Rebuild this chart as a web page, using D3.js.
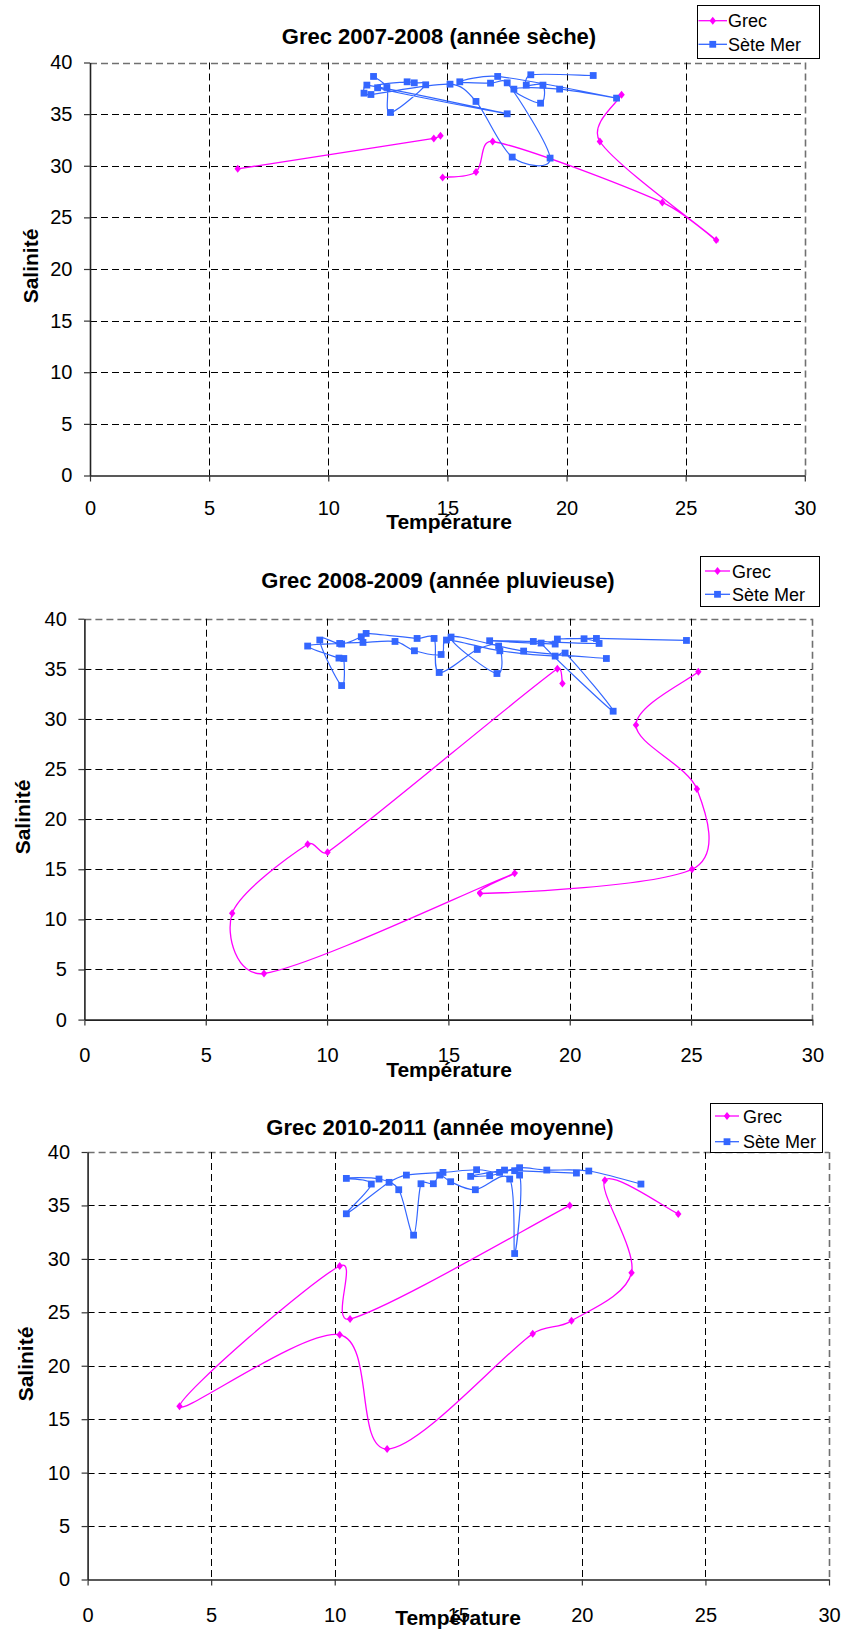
<!DOCTYPE html>
<html><head><meta charset="utf-8">
<script src="https://cdn.jsdelivr.net/npm/d3@7"></script>
<style>body{margin:0;background:#fff} svg{display:block}</style>
</head><body>
<script>
// ---------- data ----------
const titles = ["Grec 2007-2008 (année sèche)", "Grec 2008-2009 (année pluvieuse)", "Grec 2010-2011 (année moyenne)"];
const seriesNames = ["Grec", "Sète Mer"];
const xTicks = [0, 5, 10, 15, 20, 25, 30];
const yTicks = [0, 5, 10, 15, 20, 25, 30, 35, 40];
const xLabel = "Température";
const yLabel = "Salinité";

// 2007-2008
const grec1T = [6.2, 14.43, 14.71, null, 14.8, 16.2, 16.9, 24.02, 26.28, 21.4, 22.31];
const grec1S = [29.7, 32.65, 32.9, null, 28.87, 29.4, 32.35, 26.45, 22.8, 32.35, 36.87];
const sete1T = [11.90, 12.46, 12.61, 14.09, 13.61, 13.31, 12.07, 17.51, 11.62, 11.50, 11.79, 15.11, 16.20, 17.72, 19.31, 17.51, 16.81, 15.52, 17.11, 22.10, 19.71, 17.79, 18.91, 19.01, 18.31, 18.50, 21.12];
const sete1S = [38.65, 37.58, 35.16, 37.84, 38.03, 38.13, 37.55, 35.03, 37.81, 37.03, 36.90, 37.90, 36.23, 30.84, 30.74, 38.03, 38.00, 38.13, 38.65, 36.55, 37.42, 37.42, 36.06, 37.81, 37.81, 38.81, 38.74];

// 2008-2009
const grec2T = [19.70, 19.49, 10.02, 9.2, 6.09, 7.4, 17.73, 16.31, 25.04, 25.24, 22.73, 25.3];
const grec2S = [33.53, 35.0, 16.7, 17.5, 10.6, 4.6, 14.6, 12.58, 15.0, 23.0, 29.4, 34.7];
const sete2T = [21.51, 18.10, 15.11, 17.00, 17.07, 16.19, 14.62, 14.41, 13.71, 11.61, 11.41, 10.60, 9.70, 10.60, 10.69, 10.49, 9.20,
                10.52, 11.48, 12.80, 13.60, 14.70, 14.92, 17.12, 19.40, 19.81, 21.79, 18.82, 19.40, 16.70, 18.50, 21.21, 20.59, 19.49, 21.10, 24.81];
const sete2S = [36.03, 36.77, 38.17, 34.53, 37.27, 36.93, 34.63, 38.03, 38.03, 38.53, 38.20, 37.47, 37.87, 33.33, 36.03, 36.07, 37.27,
                37.53, 37.63, 37.73, 36.80, 36.43, 37.87, 36.80, 36.27, 36.57, 30.77, 37.57, 37.47, 37.80, 37.73, 37.53, 38.00, 37.97, 38.03, 37.83];

// 2010-2011
const grec3T = [19.51, 10.62, 10.2, 3.72, 10.2, 12.12, 18.01, 19.58, 22.01, 20.93, 23.9];
const grec3S = [35.0, 24.37, 29.33, 16.2, 22.9, 12.2, 23.0, 24.2, 28.7, 37.35, 34.2];
const sete3T = [22.39, 20.28, 18.58, 17.48, 16.67, 15.74, 14.38, 12.90, 12.20, 10.47, 11.48, 10.47, 11.79, 12.59, 13.19, 13.49, 13.99, 14.25, 14.69, 15.69, 17.08, 17.28, 17.48, 16.27, 15.50, 16.87, 17.28, 19.78];
const sete3S = [37.00, 38.22, 38.31, 38.53, 38.09, 38.34, 38.09, 37.84, 37.16, 34.22, 37.00, 37.53, 37.47, 36.47, 32.22, 37.03, 37.03, 37.84, 37.22, 36.47, 37.47, 30.50, 37.84, 37.78, 37.72, 38.31, 38.25, 38.03];

// ---------- layout ----------
const W = 843, H = 1629;
const FONT = "'Liberation Sans', Arial, Helvetica, sans-serif";
const MAGENTA = "#FF00FF", BLUE = "#3366FF";

const layouts = [
  {x0: 90, x1: 804.8, yTop: 62.5, yBot: 475.5, titleX: 439, titleY: 44, tickBase: 39.5, xLabX: 449, xLabY: 529, yLabX: 37.5, yLabY: 266,
   leg: {x: 697, y: 5, w: 122, h: 53, l0: 698.5, l1: 727, tx: 728, y1: 20.7, y2: 44.3}},
  {x0: 84.4, x1: 812.4, yTop: 618.7, yBot: 1019.6, titleX: 438, titleY: 588, tickBase: 42.4, xLabX: 449, xLabY: 1077, yLabX: 29.5, yLabY: 817,
   leg: {x: 700, y: 556, w: 119, h: 50, l0: 705, l1: 730, tx: 732, y1: 571, y2: 594.3}},
  {x0: 87.6, x1: 829, yTop: 1152, yBot: 1579.5, titleX: 440, titleY: 1134.5, tickBase: 42, xLabX: 458, xLabY: 1625, yLabX: 33.3, yLabY: 1364,
   leg: {x: 710, y: 1103, w: 112, h: 49, l0: 715, l1: 739, tx: 743, y1: 1116, y2: 1141.7}}
];
const datasets = [
  {gT: grec1T, gS: grec1S, sT: sete1T, sS: sete1S},
  {gT: grec2T, gS: grec2S, sT: sete2T, sS: sete2S},
  {gT: grec3T, gS: grec3S, sT: sete3T, sS: sete3S}
];

// Spreadsheet-style smoothed curve: Catmull-Rom Bezier handles,
// each handle capped relative to its own segment length (avoids loops).
function SmoothCurve(context) { this._context = context; }
SmoothCurve.prototype = {
  areaStart() {}, areaEnd() {},
  lineStart() { this._pts = []; },
  point(x, y) { this._pts.push([+x, +y]); },
  lineEnd() {
    const p = this._pts, n = p.length, c = this._context, K = 0.4;
    if (!n) return;
    c.moveTo(p[0][0], p[0][1]);
    for (let i = 0; i < n - 1; i++) {
      const p0 = p[i - 1] || p[i], p1 = p[i], p2 = p[i + 1], p3 = p[i + 2] || p[i + 1];
      const d = Math.hypot(p2[0] - p1[0], p2[1] - p1[1]);
      let t1 = [(p2[0] - p0[0]) / 6, (p2[1] - p0[1]) / 6];
      let t2 = [(p3[0] - p1[0]) / 6, (p3[1] - p1[1]) / 6];
      const lim = d * K;
      const l1 = Math.hypot(t1[0], t1[1]); if (l1 > lim && l1 > 0) t1 = t1.map(v => v * lim / l1);
      const l2 = Math.hypot(t2[0], t2[1]); if (l2 > lim && l2 > 0) t2 = t2.map(v => v * lim / l2);
      c.bezierCurveTo(p1[0] + t1[0], p1[1] + t1[1], p2[0] - t2[0], p2[1] - t2[1], p2[0], p2[1]);
    }
  }
};
const smoothCurve = ctx => new SmoothCurve(ctx);

const svg = d3.select("body").append("svg").attr("width", W).attr("height", H)
  .style("font-family", FONT);

const diamond = "M0,-4L3.2,0L0,4L-3.2,0Z";

layouts.forEach((L, ci) => {
  const D = datasets[ci];
  const g = svg.append("g");
  const x = d3.scaleLinear().domain([0, 30]).range([L.x0, L.x1]);
  const y = d3.scaleLinear().domain([0, 40]).range([L.yBot, L.yTop]);

  // grid
  g.append("g").selectAll("line").data(yTicks.filter(v => v > 0)).join("line")
    .attr("x1", L.x0).attr("x2", L.x1)
    .attr("y1", d => Math.round(y(d)) + 0.5).attr("y2", d => Math.round(y(d)) + 0.5)
    .attr("stroke", d => d === 40 ? "#707070" : "#000").attr("stroke-width", d => d === 40 ? 1.6 : 1)
    .attr("stroke-dasharray", "7,4");
  g.append("g").selectAll("line").data(xTicks.filter(v => v > 0)).join("line")
    .attr("y1", L.yTop).attr("y2", L.yBot)
    .attr("x1", d => Math.round(x(d)) + 0.5).attr("x2", d => Math.round(x(d)) + 0.5)
    .attr("stroke", d => d === 30 ? "#707070" : "#000").attr("stroke-width", d => d === 30 ? 1.6 : 1)
    .attr("stroke-dasharray", "7,4");

  // axes
  const yAxis = d3.axisLeft(y).tickValues(yTicks).tickSize(6).tickSizeOuter(0).tickPadding(11.6);
  const ya = g.append("g").attr("transform", `translate(${L.x0},0)`).call(yAxis);
  const xAxis = d3.axisBottom(x).tickValues(xTicks).tickSize(6).tickSizeOuter(0).tickPadding(L.tickBase - 6 - 14.2);
  const xa = g.append("g").attr("transform", `translate(0,${L.yBot})`).call(xAxis);
  [ya, xa].forEach(a => {
    a.select(".domain").attr("stroke", "#222").attr("stroke-width", 1.6);
    a.selectAll(".tick line").attr("stroke", "#333").attr("stroke-width", 1.2);
    a.selectAll(".tick text").attr("font-size", 20).attr("fill", "#000").style("font-family", FONT);
  });

  // series lines
  const line = (T, S) => d3.line()
    .defined((d, i) => T[i] != null)
    .x((d, i) => x(T[i])).y((d, i) => y(S[i]))
    .curve(smoothCurve)(T);

  g.append("path").attr("d", line(D.gT, D.gS)).attr("fill", "none")
    .attr("stroke", MAGENTA).attr("stroke-width", 1.3);
  g.append("path").attr("d", line(D.sT, D.sS)).attr("fill", "none")
    .attr("stroke", BLUE).attr("stroke-width", 1.2);

  // markers
  g.append("g").selectAll("rect").data(D.sT.map((t, i) => [t, D.sS[i]]).filter(d => d[0] != null)).join("rect")
    .attr("x", d => x(d[0]) - 3.4).attr("y", d => y(d[1]) - 3.4)
    .attr("width", 6.8).attr("height", 6.8).attr("fill", BLUE);
  g.append("g").selectAll("path").data(D.gT.map((t, i) => [t, D.gS[i]]).filter(d => d[0] != null)).join("path")
    .attr("d", diamond).attr("transform", d => `translate(${x(d[0])},${y(d[1])})`).attr("fill", MAGENTA);

  // titles
  g.append("text").attr("x", L.titleX).attr("y", L.titleY).attr("text-anchor", "middle")
    .attr("font-size", 22).attr("font-weight", "bold").text(titles[ci]);
  g.append("text").attr("x", L.xLabX).attr("y", L.xLabY).attr("text-anchor", "middle")
    .attr("font-size", 21).attr("font-weight", "bold").text(xLabel);
  g.append("text").attr("transform", `translate(${L.yLabX},${L.yLabY}) rotate(-90)`).attr("text-anchor", "middle")
    .attr("font-size", 21).attr("font-weight", "bold").text(yLabel);

  // legend
  const lg = L.leg;
  g.append("rect").attr("x", lg.x + 0.5).attr("y", lg.y + 0.5).attr("width", lg.w).attr("height", lg.h)
    .attr("fill", "#fff").attr("stroke", "#000").attr("stroke-width", 1);
  const items = [{name: seriesNames[0], c: MAGENTA, yy: lg.y1, m: "d"}, {name: seriesNames[1], c: BLUE, yy: lg.y2, m: "s"}];
  items.forEach(it => {
    g.append("line").attr("x1", lg.l0).attr("x2", lg.l1).attr("y1", it.yy).attr("y2", it.yy)
      .attr("stroke", it.c).attr("stroke-width", 1.3);
    const cx = (lg.l0 + lg.l1) / 2;
    if (it.m === "d") g.append("path").attr("d", diamond).attr("transform", `translate(${cx},${it.yy})`).attr("fill", it.c);
    else g.append("rect").attr("x", cx - 3.4).attr("y", it.yy - 3.4).attr("width", 6.8).attr("height", 6.8).attr("fill", it.c);
    g.append("text").attr("x", lg.tx).attr("y", it.yy + 6.7).attr("font-size", 18).text(it.name);
  });
});
</script>
</body></html>
